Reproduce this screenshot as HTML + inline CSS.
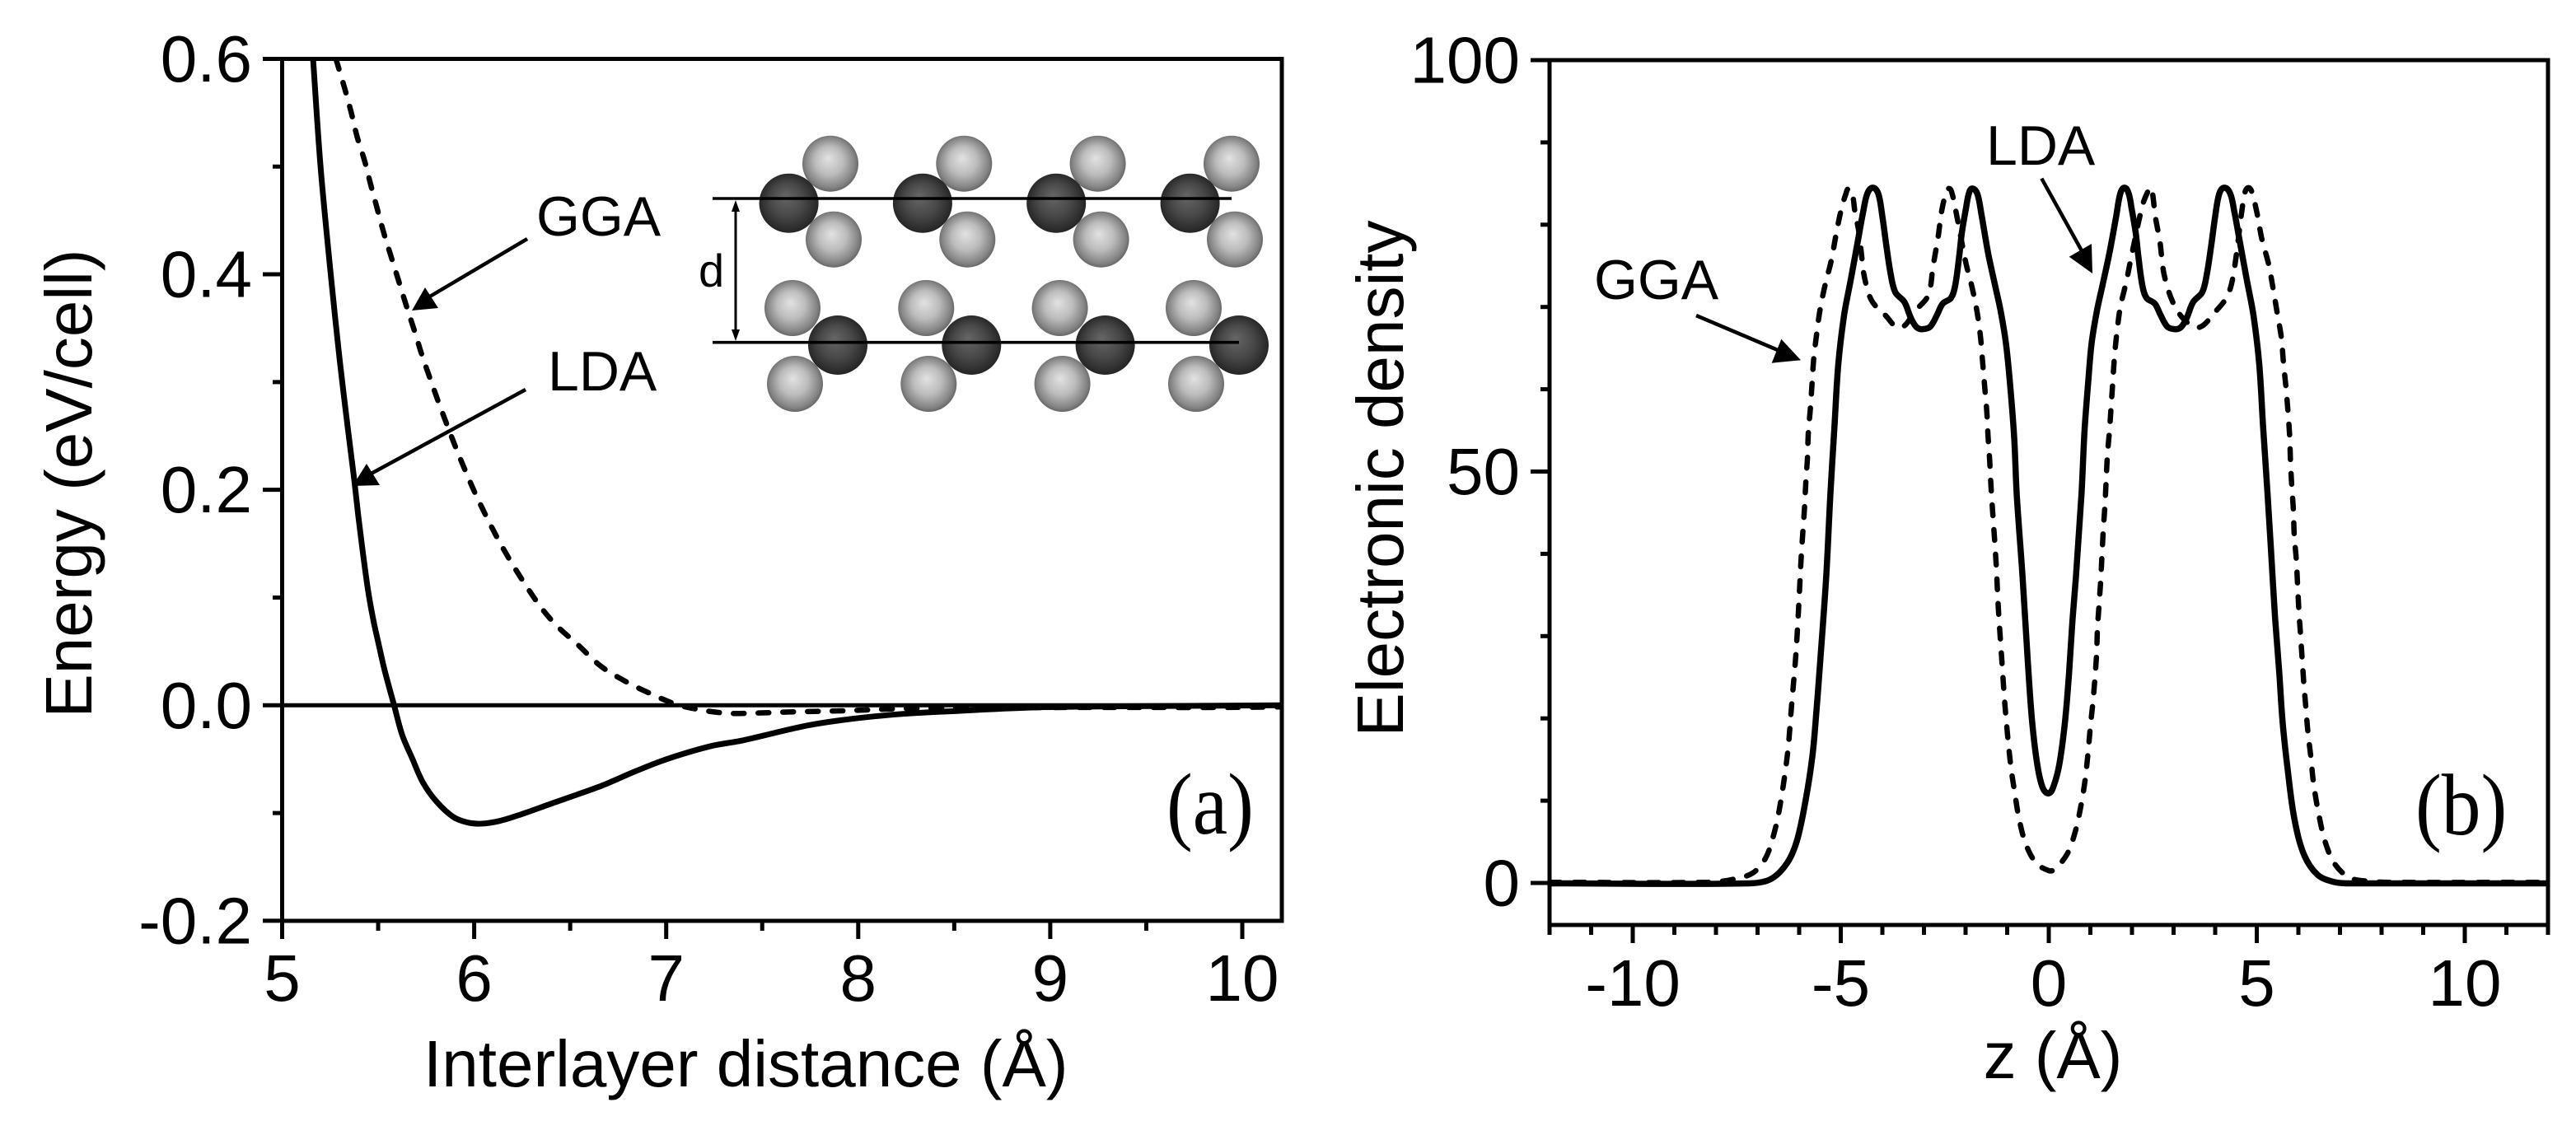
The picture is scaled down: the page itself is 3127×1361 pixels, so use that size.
<!DOCTYPE html>
<html>
<head>
<meta charset="utf-8">
<title>Energy and electronic density</title>
<style>
html,body{margin:0;padding:0;background:#fff;}
svg{display:block;}
text{font-family:"Liberation Sans",Arial,sans-serif;fill:#000;}
.serif{font-family:"Liberation Serif","Times New Roman",serif;}
</style>
</head>
<body>
<svg id="fig" xmlns="http://www.w3.org/2000/svg" width="3127" height="1361" viewBox="0 0 3127 1361">
  <defs>
    <radialGradient id="lightBall" cx="0.5" cy="0.5" r="0.56" fx="0.46" fy="0.4">
      <stop offset="0" stop-color="#e2e2e2"/>
      <stop offset="0.45" stop-color="#bcbcbc"/>
      <stop offset="0.8" stop-color="#838383"/>
      <stop offset="1" stop-color="#505050"/>
    </radialGradient>
    <radialGradient id="darkBall" cx="0.5" cy="0.5" r="0.56" fx="0.44" fy="0.38">
      <stop offset="0" stop-color="#666"/>
      <stop offset="0.5" stop-color="#484848"/>
      <stop offset="0.85" stop-color="#2a2a2a"/>
      <stop offset="1" stop-color="#1c1c1c"/>
    </radialGradient>
    <g id="upperCell">
      <circle cx="1008" cy="198.7" r="34" fill="url(#lightBall)"/>
      <circle cx="1012" cy="290.7" r="34" fill="url(#lightBall)"/>
      <circle cx="957.6" cy="246.7" r="36" fill="url(#darkBall)"/>
    </g>
    <g id="lowerCell">
      <circle cx="962" cy="374" r="34" fill="url(#lightBall)"/>
      <circle cx="965" cy="466" r="34" fill="url(#lightBall)"/>
      <circle cx="1017" cy="419" r="36" fill="url(#darkBall)"/>
    </g>
    <clipPath id="clipA"><rect x="342" y="71" width="1214" height="1047"/></clipPath>
    <clipPath id="clipB"><rect x="1881" y="73" width="1212" height="1050"/></clipPath>
  </defs>

  <g id="inset">
    <use href="#upperCell"/>
    <use href="#upperCell" x="162.3"/>
    <use href="#upperCell" x="324.6"/>
    <use href="#upperCell" x="487"/>
    <use href="#lowerCell"/>
    <use href="#lowerCell" x="162.3"/>
    <use href="#lowerCell" x="324.6"/>
    <use href="#lowerCell" x="487"/>
    <line x1="865" y1="241" x2="1495" y2="241" stroke="#000" stroke-width="3.6"/>
    <line x1="865" y1="415.7" x2="1504" y2="415.7" stroke="#000" stroke-width="3.6"/>
    <line x1="893" y1="250" x2="893" y2="407" stroke="#000" stroke-width="3"/>
    <polygon points="893,243 888,257 898,257" fill="#000"/>
    <polygon points="893,414 888,400 898,400" fill="#000"/>
    <text x="848" y="348" font-size="56">d</text>
  </g>

  <g id="panelA"></g>
  <g id="panelB"></g>

  <g>
    <text x="651" y="286" font-size="68">GGA</text>
    <line x1="640" y1="290" x2="515" y2="364" stroke="#000" stroke-width="4.5"/>
    <polygon points="500,377 516,349 532,374" fill="#000"/>
    <text x="665" y="474" font-size="68">LDA</text>
    <line x1="638" y1="473" x2="445" y2="578" stroke="#000" stroke-width="4.5"/>
    <polygon points="428,590 445,563 461,589" fill="#000"/>
    <text class="serif" transform="translate(1416,1012) scale(0.9,1)" font-size="106">(a)</text>
  </g>
  <g>
    <text x="1935" y="363" font-size="68">GGA</text>
    <line x1="2059" y1="383" x2="2165" y2="428" stroke="#000" stroke-width="4.5"/>
    <polygon points="2186,437.3 2162.3,411.7 2150.7,440.7" fill="#000"/>
    <text x="2411" y="200" font-size="68">LDA</text>
    <line x1="2478.3" y1="216.7" x2="2529" y2="308" stroke="#000" stroke-width="4.5"/>
    <polygon points="2540,332 2511.7,311.7 2539,296" fill="#000"/>
    <text class="serif" transform="translate(2932,1013) scale(0.9,1)" font-size="106">(b)</text>
  </g>
</svg>

<script>
// ---- Panel (a) data ----
const energyXTicks = [5, 6, 7, 8, 9, 10];
const energyXMinorTicks = [5.5, 6.5, 7.5, 8.5, 9.5];
const energyYTicks = [-0.2, 0, 0.2, 0.4, 0.6];
const energyYTickLabels = ['-0.2', '0.0', '0.2', '0.4', '0.6'];
const energyYMinorTicks = [-0.1, 0.1, 0.3, 0.5];
const ldaDistance = [5.161, 5.2, 5.253, 5.3, 5.34, 5.375, 5.397, 5.418, 5.447, 5.475, 5.501, 5.533, 5.583, 5.626, 5.676, 5.733, 5.804, 5.89, 5.962, 6.033, 6.133, 6.248, 6.39, 6.534, 6.677, 6.82, 6.963, 7.106, 7.25, 7.39, 7.77, 8.16, 8.54, 8.92, 9.3, 10.2];
const ldaEnergy = [0.6, 0.5, 0.4, 0.32, 0.26, 0.21, 0.175, 0.145, 0.107, 0.079, 0.058, 0.033, 0, -0.028, -0.0487, -0.0716, -0.0894, -0.1035, -0.1086, -0.1099, -0.1073, -0.101, -0.092, -0.083, -0.0737, -0.0627, -0.0525, -0.0441, -0.0372, -0.0329, -0.0176, -0.009, -0.005, -0.002, -0.001, 0];
const ggaDistance = [5.28, 5.325, 5.36, 5.39, 5.43, 5.46, 5.495, 5.53, 5.57, 5.61, 5.65, 5.69, 5.73, 5.775, 5.817, 5.916, 6.023, 6.156, 6.315, 6.418, 6.541, 6.662, 6.79, 6.92, 7.05, 7.175, 7.3, 7.38, 7.68, 7.94, 8.25, 9.1, 9.88, 10.2];
const ggaEnergy = [0.6, 0.573, 0.55, 0.528, 0.505, 0.484, 0.461, 0.438, 0.415, 0.392, 0.369, 0.347, 0.324, 0.301, 0.28, 0.234, 0.19, 0.144, 0.099, 0.076, 0.056, 0.036, 0.022, 0.0107, 0.001, -0.0041, -0.0072, -0.0076, -0.006, -0.005, -0.003, -0.002, -0.002, -0.0015];

// ---- Panel (b) data ----
const densityXTicks = [-10, -5, 0, 5, 10];
const densityXMinorTicks = [-12, -11, -9, -8, -7, -6, -4, -3, -2, -1, 1, 2, 3, 4, 6, 7, 8, 9, 11, 12];
const densityYTicks = [0, 50, 100];
const densityYMinorTicks = [10, 20, 30, 40, 60, 70, 80, 90];
const ldaZ = [
  -12, -7.2, -6.67, -6.28, -6.05, -5.85, -5.68, -5.58, -5.49, -5.35,
  -5.25, -5.15, -5.06, -4.92, -4.76, -4.59, -4.46, -4.36, -4.23, -4.1,
  -4, -3.9, -3.8, -3.69, -3.47, -3.31, -3.17, -3.03, -2.85, -2.68,
  -2.55, -2.35, -2.25, -2.15, -2.09, -1.99, -1.92, -1.84, -1.72, -1.62,
  -1.46, -1.29, -1.16, -1.03, -0.93, -0.83, -0.77, -0.63, -0.5, -0.4,
  -0.27, -0.14, 0, 0.125, 0.257, 0.39, 0.489, 0.574, 0.653, 0.786,
  0.86, 0.95, 1.03, 1.16, 1.29, 1.46, 1.62, 1.72, 1.82, 1.92,
  1.99, 2.09, 2.15, 2.25, 2.35, 2.55, 2.68, 2.85, 3.03, 3.17,
  3.31, 3.47, 3.69, 3.8, 3.9, 4, 4.1, 4.22, 4.36, 4.46,
  4.59, 4.76, 4.92, 5.06, 5.15, 5.26, 5.34, 5.44, 5.54, 5.62,
  5.74, 5.9, 6.13, 6.46, 6.85, 7.25, 12
];
const ldaDensity = [
  -0.05, -0.05, 0.5, 2.5, 5.2, 9.9, 15.5, 21.2, 27.2, 37.2,
  47.2, 55.6, 63, 69, 73.3, 78, 81.6, 83.8, 84.5, 83.8,
  81, 77.3, 74, 71.8, 70.6, 68.6, 67.5, 67.3, 67.6, 69.1,
  70.4, 71.1, 72.6, 76.3, 79, 82, 83.8, 84.4, 83.8, 81.3,
  76.6, 72.6, 69.6, 65.6, 60.6, 54, 47.2, 37.2, 26.6, 19.6,
  14.2, 11.5, 10.9, 11.9, 14.5, 19.6, 25.6, 32.2, 37.2, 47.2,
  55, 61, 65.6, 69.6, 72.6, 76.6, 81, 83.8, 84.5, 83.8,
  82, 79, 76.3, 72.6, 71.1, 70.4, 69.1, 67.6, 67.3, 67.5,
  68.6, 70.6, 71.8, 74, 77.3, 81, 83.8, 84.5, 83.8, 81.6,
  78, 73.3, 69, 63, 55.6, 47.2, 40.6, 32.2, 25.6, 19.6,
  13.9, 7.9, 3.5, 1, 0.13, -0.05, -0.05
];
const ggaZ = [
  -12, -8.2, -7.63, -7.12, -6.81, -6.61, -6.46, -6.28, -6.18, -6.08,
  -6.01, -5.95, -5.87, -5.84, -5.8, -5.78, -5.73, -5.69, -5.65, -5.58,
  -5.5, -5.38, -5.23, -5.12, -5, -4.88, -4.8, -4.72, -4.66, -4.56,
  -4.5, -4.43, -4.26, -3.93, -3.57, -3.2, -2.9, -2.78, -2.66, -2.58,
  -2.48, -2.4, -2.32, -2.22, -1.99, -1.84, -1.72, -1.64, -1.59, -1.54,
  -1.49, -1.46, -1.42, -1.39, -1.35, -1.27, -1.21, -1.13, -1.05, -0.92,
  -0.81, -0.71, -0.55, -0.3, 0, 0.125, 0.44, 0.64, 0.77, 0.865,
  0.94, 1, 1.06, 1.11, 1.15, 1.17, 1.21, 1.25, 1.28, 1.31,
  1.35, 1.41, 1.46, 1.5, 1.54, 1.58, 1.64, 1.72, 1.86, 1.98,
  2.25, 2.38, 2.46, 2.56, 2.67, 2.77, 2.98, 3.25, 3.6, 3.98,
  4.29, 4.44, 4.65, 4.72, 4.8, 4.88, 5.01, 5.12, 5.28, 5.39,
  5.49, 5.59, 5.64, 5.7, 5.75, 5.79, 5.81, 5.84, 5.88, 5.9,
  5.95, 5.98, 6.01, 6.05, 6.09, 6.13, 6.18, 6.23, 6.3, 6.36,
  6.48, 6.65, 6.89, 7.25, 7.72, 8.2, 12
];
const ggaDensity = [
  0.08, 0.08, 0.4, 1.2, 3, 5.9, 9.4, 15.7, 21.7, 27.7,
  33.7, 39.7, 45.7, 48.7, 51.7, 54.7, 57.7, 60.7, 63.7, 66.7,
  69.6, 72.6, 75.6, 78.6, 81.6, 83.7, 84.4, 83.7, 81.6, 79,
  76.3, 73.6, 70.8, 69, 67.5, 69.6, 71.4, 75, 78.5, 81.5,
  83.7, 84.4, 83.7, 81.3, 75.3, 72.3, 69.3, 66.3, 63.3, 60.3,
  57.3, 54.3, 51.3, 48.3, 45.2, 39.2, 33.2, 27.2, 21.4, 14.5,
  10.7, 7.7, 4.7, 2.4, 1.5, 1.6, 3.5, 6.3, 9.3, 12.2,
  15.6, 19, 21.9, 24.9, 27.9, 30.9, 33.9, 36.9, 39.9, 42.9,
  45.9, 52, 55, 58, 61, 64, 67, 70, 73, 76,
  82.3, 84, 84.5, 81, 78, 74, 70.6, 68.5, 67.5, 69.3,
  71.3, 74, 82, 84, 84.5, 84, 81.3, 78.3, 75.3, 72.3,
  69.3, 66.3, 63.3, 60.3, 57.3, 54.3, 51.3, 48.3, 45.3, 42.3,
  39.3, 36.3, 33.3, 30.3, 27.3, 24.3, 21.3, 18.3, 15.3, 12.3,
  8.6, 4.9, 2.2, 0.6, 0.2, 0.08, 0.08
];

// ---- Axis functions ----
function xA(v) { return 342.5 + (v - 5) * 233.1; }
function yA(v) { return 856.3 - v * 1308.1; }
function xB(v) { return 2487 + v * 50.5; }
function yB(v) { return 1072 - v * 9.99; }

const NS = 'http://www.w3.org/2000/svg';

function make(tag, parent, attrs) {
  const el = document.createElementNS(NS, tag);
  for (const k in attrs) el.setAttribute(k, attrs[k]);
  parent.appendChild(el);
  return el;
}

function smoothPath(xs, ys) {
  const p = xs.map(function (x, i) { return [x, ys[i]]; });
  let d = 'M' + p[0][0].toFixed(2) + ',' + p[0][1].toFixed(2);
  function tangent(i) {
    const a = p[Math.max(i - 1, 0)], b = p[Math.min(i + 1, p.length - 1)];
    const dx = b[0] - a[0], dy = b[1] - a[1], l = Math.hypot(dx, dy) || 1;
    return [dx / l, dy / l];
  }
  for (let i = 0; i < p.length - 1; i++) {
    const l = Math.hypot(p[i + 1][0] - p[i][0], p[i + 1][1] - p[i][1]) / 3;
    const t0 = tangent(i), t1 = tangent(i + 1);
    d += 'C' + (p[i][0] + t0[0] * l).toFixed(2) + ',' + (p[i][1] + t0[1] * l).toFixed(2) + ' ' +
      (p[i + 1][0] - t1[0] * l).toFixed(2) + ',' + (p[i + 1][1] - t1[1] * l).toFixed(2) + ' ' +
      p[i + 1][0].toFixed(2) + ',' + p[i + 1][1].toFixed(2);
  }
  return d;
}

function tickLine(parent, x1, y1, x2, y2, name) {
  const el = make('line', parent, { x1: x1, y1: y1, x2: x2, y2: y2, stroke: '#000', 'stroke-width': 5 });
  
  
}

function label(parent, str, x, y, anchor, name) {
  const el = make('text', parent, { x: x, y: y, 'font-size': 80, 'text-anchor': anchor });
  el.textContent = str;
  
  
}

function curve(parent, d, clip, width, dashed, name) {
  const attrs = { d: d, fill: 'none', stroke: '#000', 'stroke-width': width, 'clip-path': 'url(#' + clip + ')', 'stroke-linejoin': 'round' };
  if (dashed) { attrs['stroke-dasharray'] = '13 17'; attrs['stroke-linecap'] = 'round'; }
  const el = make('path', parent, attrs);
  
  
}

function frame(parent, x, y, w, h, name) {
  const el = make('rect', parent, { x: x, y: y, width: w, height: h, fill: 'none', stroke: '#000', 'stroke-width': 5 });
  
  
}

function rotated(parent, str, x, y, name) {
  const el = make('text', parent, { transform: 'translate(' + x + ',' + y + ') rotate(-90)', 'font-size': 80, 'text-anchor': 'middle' });
  el.textContent = str;
  
  
}

// ---- Panel (a) ----
const gA = document.getElementById('panelA');
curve(gA, smoothPath(ldaDistance.map(xA), ldaEnergy.map(yA)), 'clipA', 7, false, 'lda-energy-curve');
curve(gA, smoothPath(ggaDistance.map(xA), ggaEnergy.map(yA)), 'clipA', 6.5, true, 'gga-energy-curve');
tickLine(gA, xA(5), yA(0), 1556, yA(0), 'zero-energy-line');
frame(gA, 342.5, 71.5, 1213.5, 1046.5, 'panel-a-frame');
energyXTicks.forEach(function (v) {
  tickLine(gA, xA(v), 1118, xA(v), 1140, 'x-tick-major');
  label(gA, String(v), xA(v), 1215, 'middle', 'x-tick-label');
});
energyXMinorTicks.forEach(function (v) {
  tickLine(gA, xA(v), 1118, xA(v), 1130, 'x-tick-minor');
});
energyYTicks.forEach(function (v, i) {
  tickLine(gA, 319, yA(v), 342.5, yA(v), 'y-tick-major');
  label(gA, energyYTickLabels[i], 306, yA(v) + 27.5, 'end', 'y-tick-label');
});
energyYMinorTicks.forEach(function (v) {
  tickLine(gA, 331, yA(v), 342.5, yA(v), 'y-tick-minor');
});
label(gA, 'Interlayer distance (\u00C5)', 514, 1319, 'start', 'x-axis-title');
rotated(gA, 'Energy (eV/cell)', 111, 587, 'y-axis-title');

// ---- Panel (b) ----
const gB = document.getElementById('panelB');
curve(gB, smoothPath(ggaZ.map(xB), ggaDensity.map(yB)), 'clipB', 6.5, true, 'gga-density-curve');
curve(gB, smoothPath(ldaZ.map(xB), ldaDensity.map(yB)), 'clipB', 7.5, false, 'lda-density-curve');
frame(gB, 1881, 73, 1212, 1050, 'panel-b-frame');
densityXTicks.forEach(function (v) {
  tickLine(gB, xB(v), 1123, xB(v), 1145, 'x-tick-major');
  label(gB, String(v), xB(v), 1221, 'middle', 'x-tick-label');
});
densityXMinorTicks.forEach(function (v) {
  tickLine(gB, xB(v), 1123, xB(v), 1135, 'x-tick-minor');
});
densityYTicks.forEach(function (v) {
  tickLine(gB, 1858, yB(v), 1881, yB(v), 'y-tick-major');
  label(gB, String(v), 1845, yB(v) + 27.5, 'end', 'y-tick-label');
});
densityYMinorTicks.forEach(function (v) {
  tickLine(gB, 1870, yB(v), 1881, yB(v), 'y-tick-minor');
});
label(gB, 'z (\u00C5)', 2492, 1309, 'middle', 'x-axis-title');
rotated(gB, 'Electronic density', 1703, 581, 'y-axis-title');
</script>
</body>
</html>
